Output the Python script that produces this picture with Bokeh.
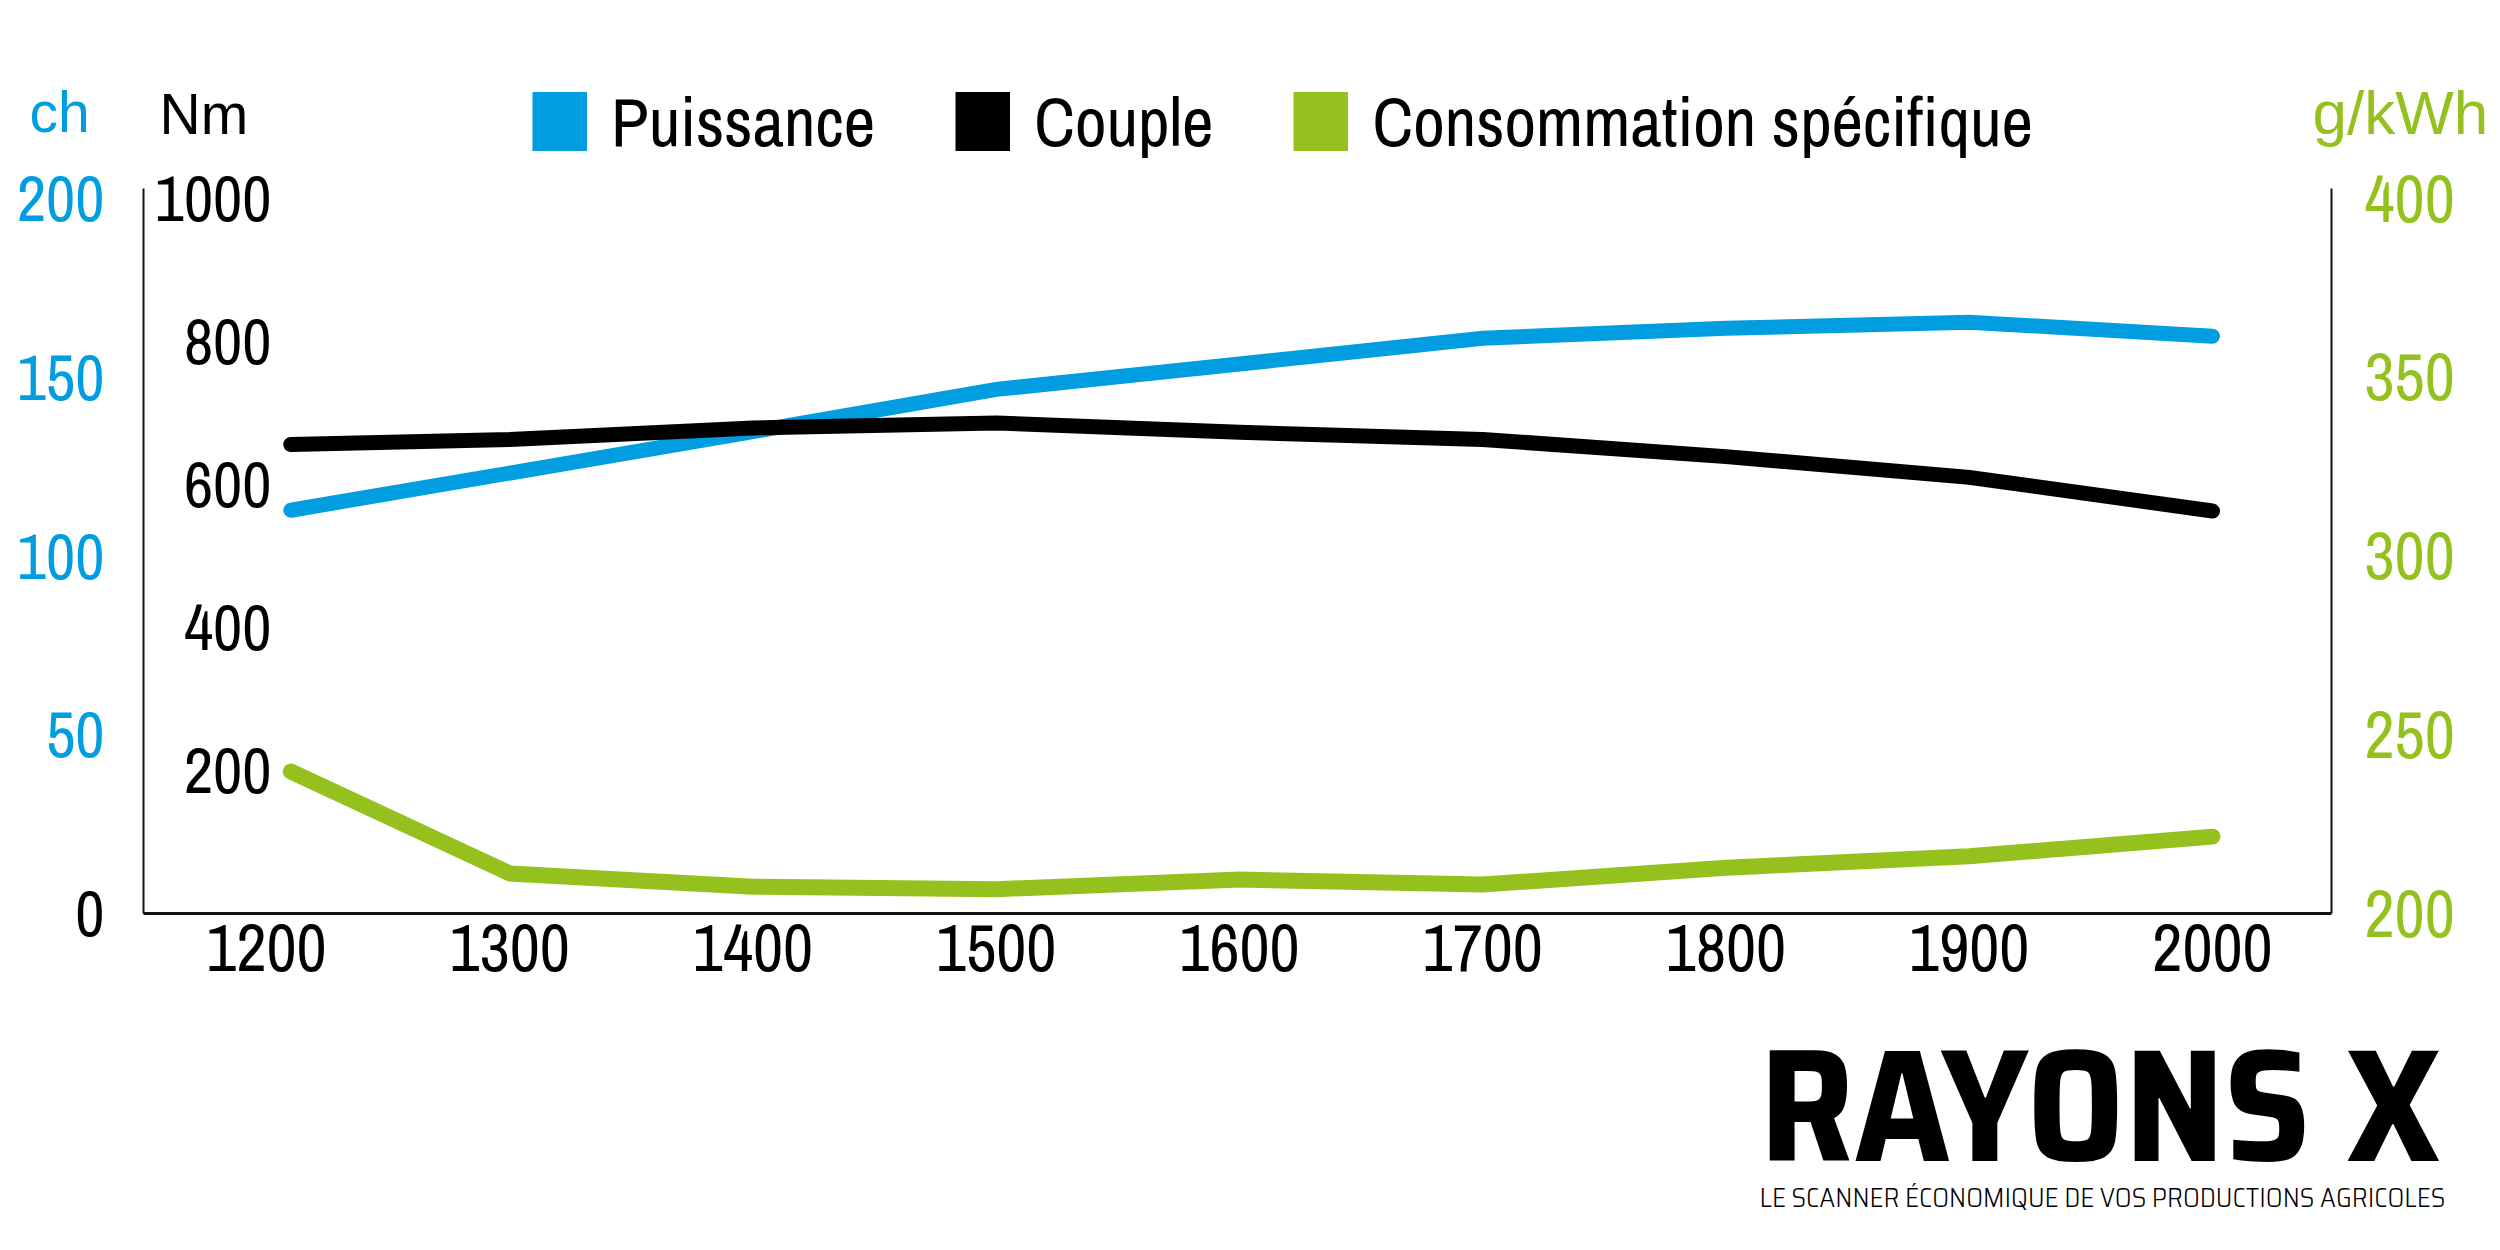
from bokeh.plotting import figure
from bokeh.models import (Range1d, LinearAxis, FixedTicker, Label, LabelSet,
                          ColumnDataSource, Legend, LegendItem, Grid)
from bokeh.core.properties import value
from bokeh.embed import file_html
from bokeh.resources import INLINE

# ---------------- data ----------------
rpm = [1210, 1300, 1400, 1500, 1600, 1700, 1800, 1900, 2000]
puissance_ch = [112.8, 123.2, 134.8, 146.6, 153.7, 160.9, 163.7, 165.4, 161.5]
couple_nm = [656, 663, 679, 686, 673, 663, 639, 610, 563]
conso_gkwh = [239.7, 211.2, 207.5, 206.8, 209.5, 208.1, 212.8, 216.0, 221.5]

x_ticks = [1200, 1300, 1400, 1500, 1600, 1700, 1800, 1900, 2000]
ch_ticks = [50, 100, 150, 200]
nm_ticks = [200, 400, 600, 800, 1000]
g_ticks = [200, 250, 300, 350, 400]
series_names = ["Puissance", "Couple", "Consommation spécifique"]

# ---------------- style / geometry ----------------
BLUE = "#009EE0"
BLACK = "#000000"
GREEN = "#95C11F"
NARROW = "'Archivo Narrow', 'PT Sans Narrow', sans-serif"
REG = "'Liberation Sans', Arial, sans-serif"
LOGO = "'Saira SemiCondensed', 'Saira', sans-serif"
LOGO_SUB = "'Saira SemiCondensed Light', 'Saira SemiCondensed', sans-serif"

W, H = 2500, 1250
PX_RPM = 2.4325
PX_NM = 0.715
SX_1200 = 266
SY_0 = 913
XMIN = 1200 - SX_1200 / PX_RPM
XMAX = 1200 + (W - SX_1200) / PX_RPM
YMIN = -(H - SY_0) / PX_NM
YMAX = SY_0 / PX_NM
X_LEFT = 1200 + (143 - SX_1200) / PX_RPM
X_RIGHT = 1200 + (2331 - SX_1200) / PX_RPM
Y_TOP = (SY_0 - 188) / PX_NM


def sx2x(sx):
    return XMIN + sx / PX_RPM


def sy2y(sy):
    return (SY_0 - sy) / PX_NM


p = figure(width=W, height=H, output_backend="svg", toolbar_location=None,
           x_range=Range1d(XMIN, XMAX), y_range=Range1d(YMIN, YMAX),
           x_axis_location=None, y_axis_location=None,
           min_border=0, min_border_left=0, min_border_right=0,
           min_border_top=0, min_border_bottom=0)
p.extra_y_ranges = {"ch": Range1d(YMIN / 5, YMAX / 5),
                    "g": Range1d(200 + YMIN / 5, 200 + YMAX / 5),
                    # range used only by the legend swatch renderers: their
                    # data maps far outside the canvas, so only the legend shows
                    "legend_only": Range1d(1e6, 1e6 + 1)}
p.outline_line_color = None
p.background_fill_color = "white"
p.border_fill_color = "white"
for r in list(p.center):
    if isinstance(r, Grid):
        r.visible = False
        r.grid_line_color = None


def style_axis(ax, color, size, standoff, lw):
    ax.major_tick_in = 0
    ax.major_tick_out = 0
    ax.minor_tick_in = 0
    ax.minor_tick_out = 0
    ax.axis_line_width = lw
    ax.axis_line_color = "#111111"
    ax.major_label_text_font = NARROW
    ax.major_label_text_font_size = size
    ax.major_label_text_color = color
    ax.major_label_standoff = standoff


xa = LinearAxis(ticker=FixedTicker(ticks=x_ticks), fixed_location=0,
                bounds=(X_LEFT, X_RIGHT))
style_axis(xa, "black", "66px", 11, 3)
p.add_layout(xa, "below")

la = LinearAxis(y_range_name="ch", ticker=FixedTicker(ticks=ch_ticks),
                fixed_location=X_LEFT, bounds=(0, Y_TOP / 5))
style_axis(la, BLUE, "64px", 39, 2)
p.add_layout(la, "left")

ra = LinearAxis(y_range_name="g", ticker=FixedTicker(ticks=g_ticks),
                fixed_location=X_RIGHT, bounds=(200, 200 + Y_TOP / 5))
style_axis(ra, GREEN, "66px", 33, 2)
p.add_layout(ra, "right")

nm_src = ColumnDataSource(dict(x=[X_LEFT] * len(nm_ticks), y=nm_ticks,
                               t=[str(v) for v in nm_ticks]))
p.add_layout(LabelSet(x="x", y="y", text="t", source=nm_src, x_offset=128,
                      text_align="right", text_baseline="middle",
                      text_font=value(NARROW), text_font_size=value("64px"),
                      text_color="black"))
p.add_layout(Label(x=X_LEFT, y=0, text="0", x_offset=-39, text_align="right",
                   text_baseline="middle", text_font=NARROW,
                   text_font_size="64px", text_color="black"))

# unit labels
p.add_layout(Label(x=sx2x(29), y=sy2y(111), text="ch", text_align="left",
                   text_baseline="middle", text_font=REG,
                   text_font_size="57px", text_color=BLUE))
p.add_layout(Label(x=sx2x(159), y=sy2y(113), text="Nm", text_align="left",
                   text_baseline="middle", text_font=REG,
                   text_font_size="57px", text_color="black"))
p.add_layout(Label(x=sx2x(2312), y=sy2y(112), text="g/kWh", text_align="left",
                   text_baseline="middle", text_font=REG,
                   text_font_size="62px", text_color=GREEN))

# data lines
src = ColumnDataSource(dict(rpm=rpm, ch=puissance_ch, nm=couple_nm, g=conso_gkwh))
p.line("rpm", "ch", source=src, y_range_name="ch", line_color=BLUE, line_width=15,
       line_cap="round", line_join="miter")
p.line("rpm", "nm", source=src, line_color=BLACK, line_width=15,
       line_cap="round", line_join="miter")
p.line("rpm", "g", source=src, y_range_name="g", line_color=GREEN, line_width=16,
       line_cap="round", line_join="miter")

# legend swatches (drawn off-canvas; only their legend glyph is seen)
sw_b = p.line("rpm", "ch", source=src, y_range_name="legend_only",
              line_color=BLUE, line_width=59, line_cap="butt")
sw_k = p.line("rpm", "nm", source=src, y_range_name="legend_only",
              line_color=BLACK, line_width=59, line_cap="butt")
sw_g = p.line("rpm", "g", source=src, y_range_name="legend_only",
              line_color=GREEN, line_width=59, line_cap="butt")

legend = Legend(items=[LegendItem(label=series_names[0], renderers=[sw_b]),
                       LegendItem(label=series_names[1], renderers=[sw_k]),
                       LegendItem(label=series_names[2], renderers=[sw_g])],
                orientation="horizontal", location=(532, H - 171),
                glyph_width=55, glyph_height=100, label_height=100,
                label_standoff=24, spacing=80,
                padding=0, margin=0, border_line_color=None,
                background_fill_alpha=0,
                label_text_font=NARROW, label_text_font_size="69px",
                label_text_color="black", label_text_baseline="middle")
p.add_layout(legend, "center")

# logo
p.add_layout(Label(x=sx2x(1759), y=sy2y(1104), text="RAYONS X", text_align="left",
                   text_baseline="middle", text_font=LOGO,
                   text_font_style="bold", text_font_size="160px",
                   text_color="black"))
p.add_layout(Label(x=sx2x(1759), y=sy2y(1197),
                   text="LE SCANNER ÉCONOMIQUE DE VOS PRODUCTIONS AGRICOLES",
                   text_align="left", text_baseline="middle",
                   text_font=LOGO_SUB, text_font_size="27px", text_color="black"))

open("out.html", "w").write(file_html(p, INLINE))
